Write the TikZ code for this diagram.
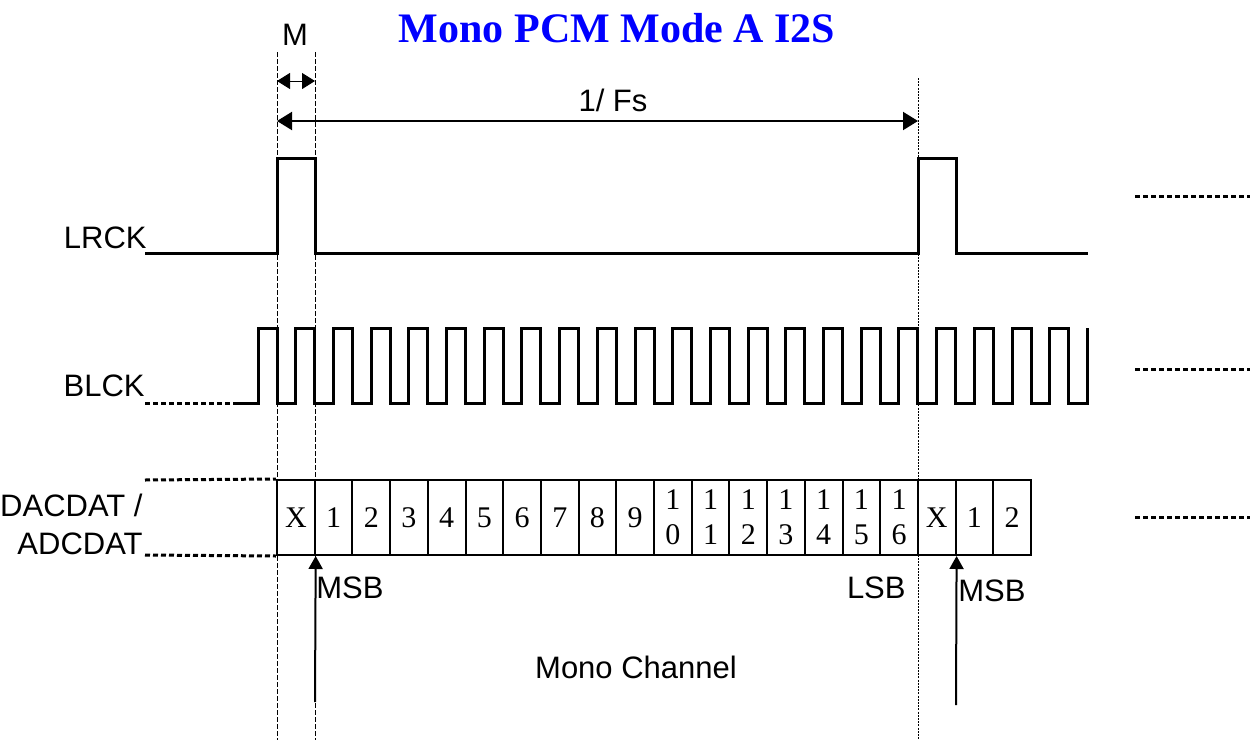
\documentclass[tikz,border=0pt]{standalone}
\usepackage{fontspec}
\setmainfont{Liberation Serif}
\setsansfont{Liberation Sans}
\usetikzlibrary{arrows.meta}
\usetikzlibrary{calc}

\tikzset{
	wave/.style={line width=1.5pt, line join=miter},
	guide/.style={line width=0.5pt, dash pattern=on 2.5pt off 1pt},
	fineguide/.style={line width=0.5pt, dash pattern=on 1pt off 0.6pt},
	lead/.style={line width=1.5pt, dash pattern=on 2.5pt off 1.5pt},
	cellbox/.style={draw, line width=1pt, minimum width=18.85pt, minimum height=37.5pt, inner sep=0pt, align=center, font=\rmfamily\fontsize{15}{17.5}\selectfont},
	sig/.style={font=\sffamily\fontsize{15.5}{19}\selectfont, inner sep=0pt},
	uptip/.style={-{Triangle[length=6.5pt,width=7pt]}, line width=1pt},
}

\begin{document}
\begin{tikzpicture}[x=0.5pt, y=-0.5pt]
	\useasboundingbox (0,0) rectangle (1250,740);
	\node[font=\rmfamily\bfseries\fontsize{21}{21}\selectfont, text=blue] (title) at (617,28) {Mono PCM Mode A I2S};

	\coordinate (g1t) at (277,52);
	\coordinate (g1b) at (277,740);
	\coordinate (g2t) at (315,52);
	\coordinate (g2b) at (315,740);
	\coordinate (g3t) at (918,78);
	\coordinate (g3b) at (918,740);
	\draw[guide] (g1t) -- (g1b);
	\draw[guide] (g2t) -- (g2b);
	\draw[fineguide] (g3t) -- (g3b);

	\node[sig] (mlbl) at (295,35) {M};
	\coordinate (m1) at (277,81);
	\coordinate (m2) at (315,81);
	\draw[{Triangle[length=6.5pt,width=8pt]}-{Triangle[length=6.5pt,width=8pt]}, line width=0.5pt] (m1) -- (m2);

	\node[sig] (fslbl) at (613,100) {1/ Fs};
	\coordinate (f1) at (277,121);
	\coordinate (f2) at (918,121);
	\draw[{Triangle[length=7.5pt,width=9pt]}-{Triangle[length=7.5pt,width=9pt]}, line width=1pt] (f1) -- (f2);

	\node[sig, anchor=east] (lrck) at (147,238) {LRCK};
	\draw[wave] (145,253) -- (277,253) -- (277,158) -- (315,158) -- (315,253) -- (918,253) -- (918,158) -- (956,158) -- (956,253) -- (1088,253);

	\node[sig, anchor=east] (blck) at (145,386) {BLCK};
	\draw[lead] (145,403) -- (238,403);
	\draw[wave] (238,403) foreach \k in {0,...,21} { -- ({258+37.7*\k},403) -- ({258+37.7*\k},328) -- ({277+37.7*\k},328) -- ({277+37.7*\k},403) } -- (1087,403) -- (1087,328);

	\foreach \lbl [count=\i from 0] in {X,1,2,3,4,5,6,7,8,9,{1\\0},{1\\1},{1\\2},{1\\3},{1\\4},{1\\5},{1\\6},X,1,2}
		\node[cellbox] (c\i) at ({295.85+37.7*\i},517.5) {\lbl};

	\node[sig, anchor=east, align=right] (dat) at (143,524) {DACDAT /\\ADCDAT};
	\draw[lead] (145,480) -- (c0.north west);
	\draw[lead] (145,555) -- (c0.south west);

	\coordinate (r1a) at (1135,196);
	\coordinate (r1b) at (1250,196);
	\coordinate (r2a) at (1135,369);
	\coordinate (r2b) at (1250,369);
	\coordinate (r3a) at (1135,517);
	\coordinate (r3b) at (1250,517);
	\draw[lead] (r1a) -- (r1b);
	\draw[lead] (r2a) -- (r2b);
	\draw[lead] (r3a) -- (r3b);

	\coordinate (a1) at (315,702);
	\coordinate (a2) at (956,705);
	\draw[uptip] (a1) -- (c0.south east);
	\draw[uptip] (a2) -- (c17.south east);
	\node[sig, anchor=west] (msb1) at (316,588) {MSB};
	\node[sig, anchor=east] (lsb) at (906,588) {LSB};
	\node[sig, anchor=west] (msb2) at (958,591) {MSB};
	\node[sig] (chan) at (636,667) {Mono Channel};
\end{tikzpicture}
\end{document}
